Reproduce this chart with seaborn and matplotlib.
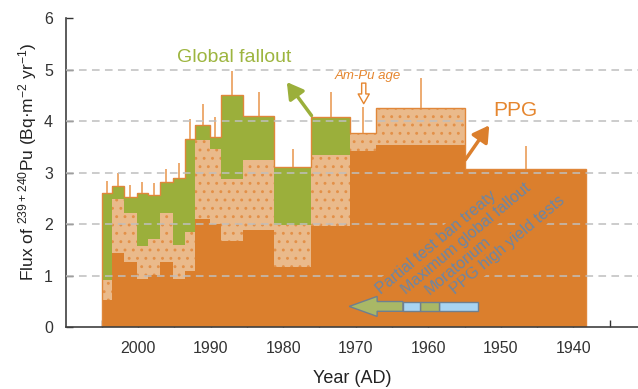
import numpy as np
import matplotlib
matplotlib.use("Agg")
import matplotlib.pyplot as plt
import seaborn as sns

# core layers, year AD (top of core -> bottom)
edges = [2005.0, 2003.6, 2001.9, 2000.2, 1998.6, 1997.0, 1995.2, 1993.5, 1992.1,
         1990.1, 1988.6, 1985.5, 1981.2, 1976.1, 1970.8, 1967.2, 1954.9, 1938.2]
ppg_low = [0.53, 1.43, 1.27, 0.93, 1.02, 1.27, 0.93, 1.08, 2.09, 2.01, 1.67,
           1.89, 1.16, 1.96, 3.42, 3.53, 3.07]
ppg_high = [0.92, 2.48, 2.21, 1.58, 1.71, 2.21, 1.60, 1.85, 3.63, 3.45, 2.87,
            3.24, 1.98, 3.34, 3.77, 4.25, 3.07]
total = [2.60, 2.74, 2.53, 2.60, 2.56, 2.82, 2.90, 3.66, 3.93, 3.70, 4.50,
         4.11, 3.10, 4.08, 3.77, 4.25, 3.07]
err_top = [2.84, 2.99, 2.76, 2.82, 2.79, 3.08, 3.18, 4.05, 4.34, 4.09, 4.98,
           4.56, 3.45, 4.57, 4.27, 4.84, 3.51]

# nuclear testing history timeline
periods = ["PPG high yield tests", "Moratorium", "Maximum global fallout", "Partial test ban treaty"]
period_start = [1953.1, 1958.5, 1961.2, 1963.5]
period_end = [1958.5, 1961.2, 1963.5, 1970.9]
label_year = [1956.3, 1959.8, 1963.0, 1966.5]

xticks = list(range(1935, 2006, 5))
grid_levels = [1, 2, 3, 4, 5]

ORANGE = "#DB7F2D"
TAN = "#EABA8B"
GREEN = "#9BAF3B"
EDGE = "#E0873A"
BLUE = "#A8D4F2"
TL_GREEN = "#A9B866"

sns.set_theme(style="ticks")
plt.rcParams["font.family"] = ["Liberation Sans", "DejaVu Sans"]
plt.rcParams["mathtext.default"] = "regular"
plt.rcParams["hatch.linewidth"] = 0.9

fig = plt.figure(figsize=(6.38, 3.89), dpi=100)
ax = fig.add_axes([0.1027, 0.1594, 0.8973, 0.7936])

e = np.array(edges)[::-1]
lo = np.array(ppg_low)[::-1]
hi = np.array(ppg_high)[::-1]
tot = np.array(total)[::-1]
mids = (np.array(edges[:-1]) + np.array(edges[1:])) / 2

ax.stairs(lo, e, baseline=0, fill=True, facecolor=ORANGE, edgecolor=ORANGE, lw=0, zorder=1)
ax.stairs(hi, e, baseline=lo, fill=True, facecolor=TAN, edgecolor="#E39048", lw=0,
          hatch="..", zorder=1)
ax.stairs(tot, e, baseline=hi, fill=True, facecolor=GREEN, edgecolor=GREEN, lw=0, zorder=1)
ax.stairs(tot, e, baseline=0, fill=False, color=EDGE, lw=1.0, zorder=2)
ax.vlines(mids, total, err_top, color="#E8954A", lw=1.1, zorder=2)

for g in grid_levels:
    ax.axhline(g, color="#BFBFBF", lw=1.1, ls=(0, (5, 3.5)), zorder=3)

# timeline boxes and arrow
yc, hh = 0.40, 0.095
box_cols = [BLUE, TL_GREEN, BLUE]
ax.barh([yc] * 3, np.array(period_end[:3]) - np.array(period_start[:3]),
        left=period_start[:3], height=2 * hh, color=box_cols,
        edgecolor="#6F7F8F", lw=1, zorder=4)
a0, a1 = period_start[3], period_end[3]
neck = a1 - (a1 - a0) * 0.52
ax.fill([a1, neck, neck, a0, a0, neck, neck],
        [yc, yc + 2.05 * hh, yc + hh, yc + hh, yc - hh, yc - hh, yc - 2.05 * hh],
        facecolor=TL_GREEN, edgecolor="#6F7F8F", lw=1, zorder=4)

for name, yr in zip(periods, label_year):
    ax.text(yr, 0.62, name, rotation=40, rotation_mode="anchor", ha="left",
            va="baseline", fontsize=11.5, color="#6A86A6", zorder=5,
            bbox=dict(facecolor=ORANGE, edgecolor="none", pad=1.0))

# annotations
ax.text(1986.8, 5.24, "Global fallout", color="#9DB53F", fontsize=14,
        ha="center", va="center", zorder=5)
ax.annotate("", xy=(1979.5, 4.76), xytext=(1976.1, 4.11),
            arrowprops=dict(arrowstyle="-|>,head_length=0.6,head_width=0.35",
                            color=GREEN, lw=2.5, mutation_scale=16,
                            shrinkA=0, shrinkB=0), zorder=5)
ax.text(1948.0, 4.2, "PPG", color="#E5862F", fontsize=15,
        ha="center", va="center", zorder=5)
ax.annotate("", xy=(1951.6, 3.92), xytext=(1954.9, 3.25),
            arrowprops=dict(arrowstyle="-|>,head_length=0.6,head_width=0.35",
                            color=ORANGE, lw=2.5, mutation_scale=16,
                            shrinkA=0, shrinkB=0), zorder=5)
ax.text(1968.3, 4.87, "Am-Pu age", color="#E5862F", fontsize=9.5,
        style="italic", ha="center", va="center", zorder=5)
ax.annotate("", xy=(1968.9, 4.34), xytext=(1968.9, 4.74),
            arrowprops=dict(arrowstyle="simple,head_length=0.7,head_width=0.8,tail_width=0.3",
                            fc="white", ec="#E5862F", lw=1, mutation_scale=10,
                            shrinkA=0, shrinkB=0), zorder=5)

ax.set_xlim(2010, 1931.1)
ax.set_ylim(0, 6)
ax.set_xticks(xticks)
ax.set_xticklabels([str(t) if t % 10 == 0 and 1940 <= t <= 2000 else "" for t in xticks])
ax.set_yticks(range(0, 7))
ax.tick_params(direction="in", length=5, width=1, colors="#333333", labelsize=11.5)
ax.tick_params(axis="x", pad=10)
ax.tick_params(axis="y", pad=9)
for s in ["top", "right"]:
    ax.spines[s].set_visible(False)
for s in ["left", "bottom"]:
    ax.spines[s].set_color("#404040")
    ax.spines[s].set_linewidth(1.2)

ax.set_xlabel("Year (AD)", fontsize=13, labelpad=10, color="#222222")
ax.set_ylabel("Flux of $^{239+240}$Pu (Bq·m$^{-2}$ yr$^{-1}$)", fontsize=12.5, color="#222222")
ax.yaxis.set_label_coords(-0.047, 0.535)

fig.savefig("out.png", dpi=100)
